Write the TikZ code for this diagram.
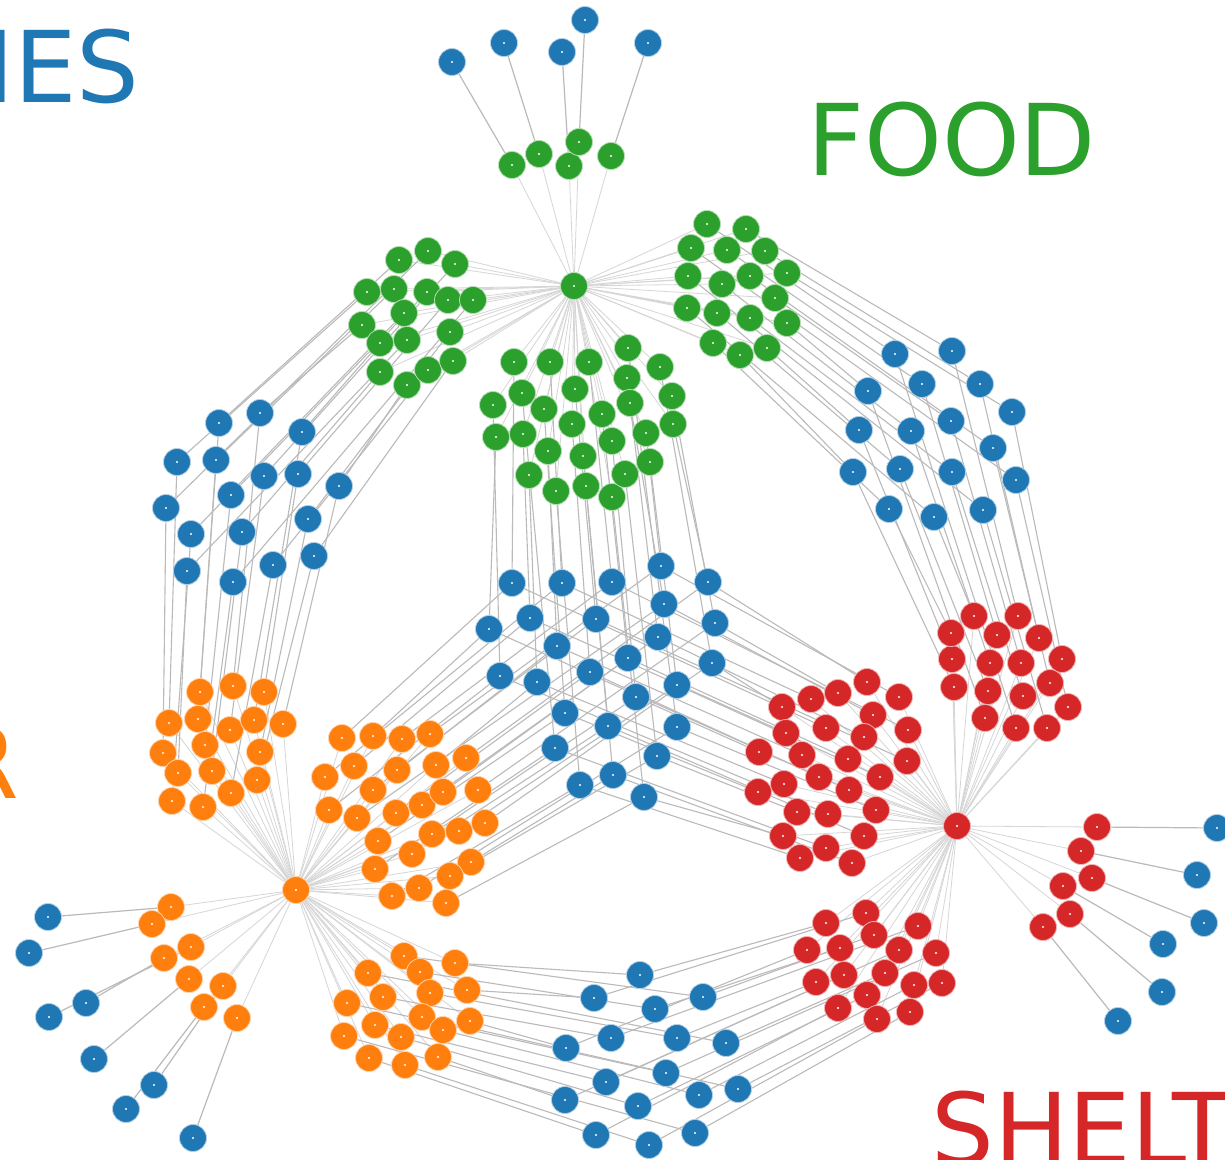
\documentclass[tikz,border=0pt]{standalone}
\usepackage{fontspec}
\setmainfont{DejaVu Sans}
\usetikzlibrary{backgrounds}
\definecolor{tabblue}{HTML}{1F77B4}
\definecolor{taborange}{HTML}{FF7F0E}
\definecolor{tabgreen}{HTML}{2CA02C}
\definecolor{tabred}{HTML}{D62728}
\tikzset{
  netnode/.style={circle, inner sep=0pt, minimum size=27pt, line width=0.8pt,
    path picture={\fill[white] (path picture bounding box.center) circle (1.2pt);}},
  bnode/.style={netnode, fill=tabblue, draw=tabblue!35!white},
  onode/.style={netnode, fill=taborange, draw=taborange!35!white},
  gnode/.style={netnode, fill=tabgreen, draw=tabgreen!35!white},
  rnode/.style={netnode, fill=tabred, draw=tabred!35!white},
  hubedge/.style={draw=black!16, line width=0.8pt},
  bridge/.style={draw=black!27, line width=1.1pt},
  leafedge/.style={draw=black!27, line width=1.2pt},
  biglabel/.style={font=\fontsize{99}{99}\selectfont, anchor=base west, inner sep=0pt}
}
\begin{document}
\begin{tikzpicture}[x=1pt,y=-1pt]
\useasboundingbox (0,0) rectangle (1225,1159);
\clip (0,0) rectangle (1225,1159);
% hubs
\node[gnode] (gh) at (574,286) {};
\node[onode] (oh) at (296,890) {};
\node[rnode] (rh) at (957,826) {};
% green
\foreach \x/\y [count=\i] in {512/165,539/154,569/166,579/142,611/156}
  \node[gnode] (gs\i) at (\x,\y) {};
\foreach \x/\y [count=\i] in {367/292,399/260,428/251,394/289,362/325,404/313,427/292,380/343,455/264,407/340,380/372,448/300,473/300,450/332,407/385,428/370,453/361}
  \node[gnode] (gtl\i) at (\x,\y) {};
\foreach \x/\y [count=\i] in {713/343,740/355,687/308,717/313,767/348,688/276,750/318,722/284,787/323,691/248,775/298,750/276,727/250,707/224,787/273,765/251,746/229}
  \node[gnode] (gtr\i) at (\x,\y) {};
\foreach \x/\y [count=\i] in {496/437,493/405,514/362,523/434,529/475,522/393,548/451,544/409,556/491,550/362,572/424,575/389,583/456,586/486,589/362,602/414,612/497,612/441,625/474,627/378,630/403,628/348,646/433,650/462,660/367,673/424,672/396}
  \node[gnode] (gc\i) at (\x,\y) {};
% blue
\foreach \x/\y [count=\i] in {452/62,504/43,562/52,585/20,648/43}
  \node[bnode] (bt\i) at (\x,\y) {};
\foreach \x/\y [count=\i] in {177/462,219/423,166/508,216/460,260/413,191/534,231/495,302/432,264/476,187/571,242/532,298/474,233/582,308/519,339/486,273/565,314/556}
  \node[bnode] (bul\i) at (\x,\y) {};
\foreach \x/\y [count=\i] in {889/509,853/472,934/517,900/469,859/430,983/510,952/472,911/431,868/391,1016/480,951/421,993/448,922/384,895/354,1012/412,980/384,952/351}
  \node[bnode] (btr\i) at (\x,\y) {};
\foreach \x/\y [count=\i] in {489/629,500/676,512/583,530/618,537/682,555/748,557/646,565/713,580/785,562/583,590/672,596/619,608/726,613/775,612/582,628/658,644/797,636/697,657/756,658/637,664/604,677/727,661/566,677/685,712/663,708/582,715/623}
  \node[bnode] (bc\i) at (\x,\y) {};
\foreach \x/\y [count=\i] in {640/975,703/997,655/1009,594/998,726/1043,677/1038,611/1038,566/1048,738/1089,666/1073,699/1095,606/1082,638/1106,565/1100,695/1133,649/1145,596/1135}
  \node[bnode] (bbot\i) at (\x,\y) {};
\foreach \x/\y [count=\i] in {48/917,29/953,86/1003,49/1017,94/1059,154/1085,126/1109,193/1138}
  \node[bnode] (bl\i) at (\x,\y) {};
\foreach \x/\y [count=\i] in {1217/828,1197/875,1204/923,1163/944,1162/992,1118/1021}
  \node[bnode] (br\i) at (\x,\y) {};
% orange
\foreach \x/\y [count=\i] in {163/753,169/723,172/801,178/773,200/692,198/719,205/745,203/807,212/771,233/686,230/730,231/793,254/720,264/692,260/752,257/780,283/724}
  \node[onode] (ol\i) at (\x,\y) {};
\foreach \x/\y [count=\i] in {342/738,373/736,325/777,354/766,402/739,430/734,329/810,397/770,373/790,436/765,357/818,466/758,396/813,422/805,443/792,378/841,478/790,375/869,432/834,412/854,459/831,485/823,392/896,419/888,471/862,450/876,446/903}
  \node[onode] (oc\i) at (\x,\y) {};
\foreach \x/\y [count=\i] in {455/963,404/956,420/972,467/990,368/973,430/993,383/997,470/1021,422/1017,347/1003,443/1030,375/1025,401/1037,438/1057,344/1036,405/1065,369/1058}
  \node[onode] (ob\i) at (\x,\y) {};
\foreach \x/\y [count=\i] in {171/907,152/924,164/958,191/947,189/979,223/986,204/1007,237/1018}
  \node[onode] (os\i) at (\x,\y) {};
% red
\foreach \x/\y [count=\i] in {954/687,952/659,951/633,985/718,988/691,974/616,990/663,1016/728,997/635,1023/696,1021/663,1047/728,1018/616,1050/683,1039/638,1068/707,1062/659}
  \node[rnode] (rr\i) at (\x,\y) {};
\foreach \x/\y [count=\i] in {867/682,899/697,838/693,873/715,908/730,811/699,864/737,782/707,907/761,826/728,848/759,786/733,880/777,802/755,819/777,849/790,759/752,876/810,784/784,828/814,864/836,758/792,797/812,826/848,852/863,783/836,800/858}
  \node[rnode] (rbig\i) at (\x,\y) {};
\foreach \x/\y [count=\i] in {826/923,866/913,807/950,840/948,874/935,918/926,816/982,899/950,844/975,885/973,936/953,867/995,838/1008,914/985,942/983,877/1019,910/1012}
  \node[rnode] (rbot\i) at (\x,\y) {};
\foreach \x/\y [count=\i] in {1097/827,1081/851,1092/878,1063/886,1070/914,1043/927}
  \node[rnode] (rs\i) at (\x,\y) {};
% edges
\begin{pgfonlayer}{background}
\fill[white] (0,0) rectangle (1225,1159);
% hub edges
\foreach \i in {1,...,5} \draw[hubedge] (gh) -- (gs\i);
\foreach \i in {1,...,17} {\draw[hubedge] (gh) -- (gtl\i); \draw[hubedge] (gh) -- (gtr\i);}
\foreach \i in {1,...,27} \draw[hubedge] (gh) -- (gc\i);
\foreach \i in {1,...,17} {\draw[hubedge] (oh) -- (ol\i); \draw[hubedge] (oh) -- (ob\i);}
\foreach \i in {1,...,27} \draw[hubedge] (oh) -- (oc\i);
\foreach \i in {1,...,8} \draw[hubedge] (oh) -- (os\i);
\foreach \i in {1,...,17} {\draw[hubedge] (rh) -- (rr\i); \draw[hubedge] (rh) -- (rbot\i);}
\foreach \i in {1,...,27} \draw[hubedge] (rh) -- (rbig\i);
\foreach \i in {1,...,6} \draw[hubedge] (rh) -- (rs\i);
% leaf edges
\foreach \i in {1,...,5} \draw[leafedge] (bt\i) -- (gs\i);
\foreach \i in {1,...,8} \draw[leafedge] (bl\i) -- (os\i);
\foreach \i in {1,...,6} \draw[leafedge] (br\i) -- (rs\i);
% bridges
\foreach \i in {1,...,17} \draw[bridge] (gtl\i) -- (bul\i);
\foreach \a/\b in {3/1,1/2,6/3,10/4,2/5,4/6,7/7,13/8,11/9,5/10,9/11,16/12,8/13,12/14,14/15,17/16,15/17}
  \draw[bridge] (bul\a) -- (ol\b);
\foreach \i in {1,...,17} \draw[bridge] (gtr\i) -- (btr\i);
\foreach \a/\b in {2/1,5/2,1/3,9/4,4/5,3/6,8/7,14/8,13/9,7/10,11/11,6/12,17/13,12/14,16/15,10/16,15/17}
  \draw[bridge] (btr\a) -- (rr\b);
\foreach \i in {1,...,27} \draw[bridge] (gc\i) -- (bc\i);
\foreach \a [count=\b] in {3,1,10,4,15,23,2,12,7,5,21,26,11,20,16,8,27,6,18,13,24,25,9,22,14,19,17}
  \draw[bridge] (bc\a) -- (oc\b);
\foreach \a [count=\b] in {26,23,27,21,15,10,20,25,12,3,16,4,24,7,11,1,18,22,5,2,13,8,19,6,14,17,9}
  \draw[bridge] (bc\a) -- (rbig\b);
\foreach \i in {1,...,17} \draw[bridge] (ob\i) -- (bbot\i);
\foreach \a [count=\b] in {1,4,8,3,2,7,6,12,14,5,10,13,17,11,9,16,15}
  \draw[bridge] (bbot\a) -- (rbot\b);
\end{pgfonlayer}
% labels (cut by the frame as in the reference)
\node[biglabel, text=tabblue] (lies) at (-15,102) {IES};
\node[biglabel, text=tabgreen] (lfood) at (807,175) {FOOD};
\node[biglabel, text=taborange] (lr) at (-50,798) {R};
\node[biglabel, text=tabred] (lshelt) at (931,1164) {SHELT};
\end{tikzpicture}
\end{document}
